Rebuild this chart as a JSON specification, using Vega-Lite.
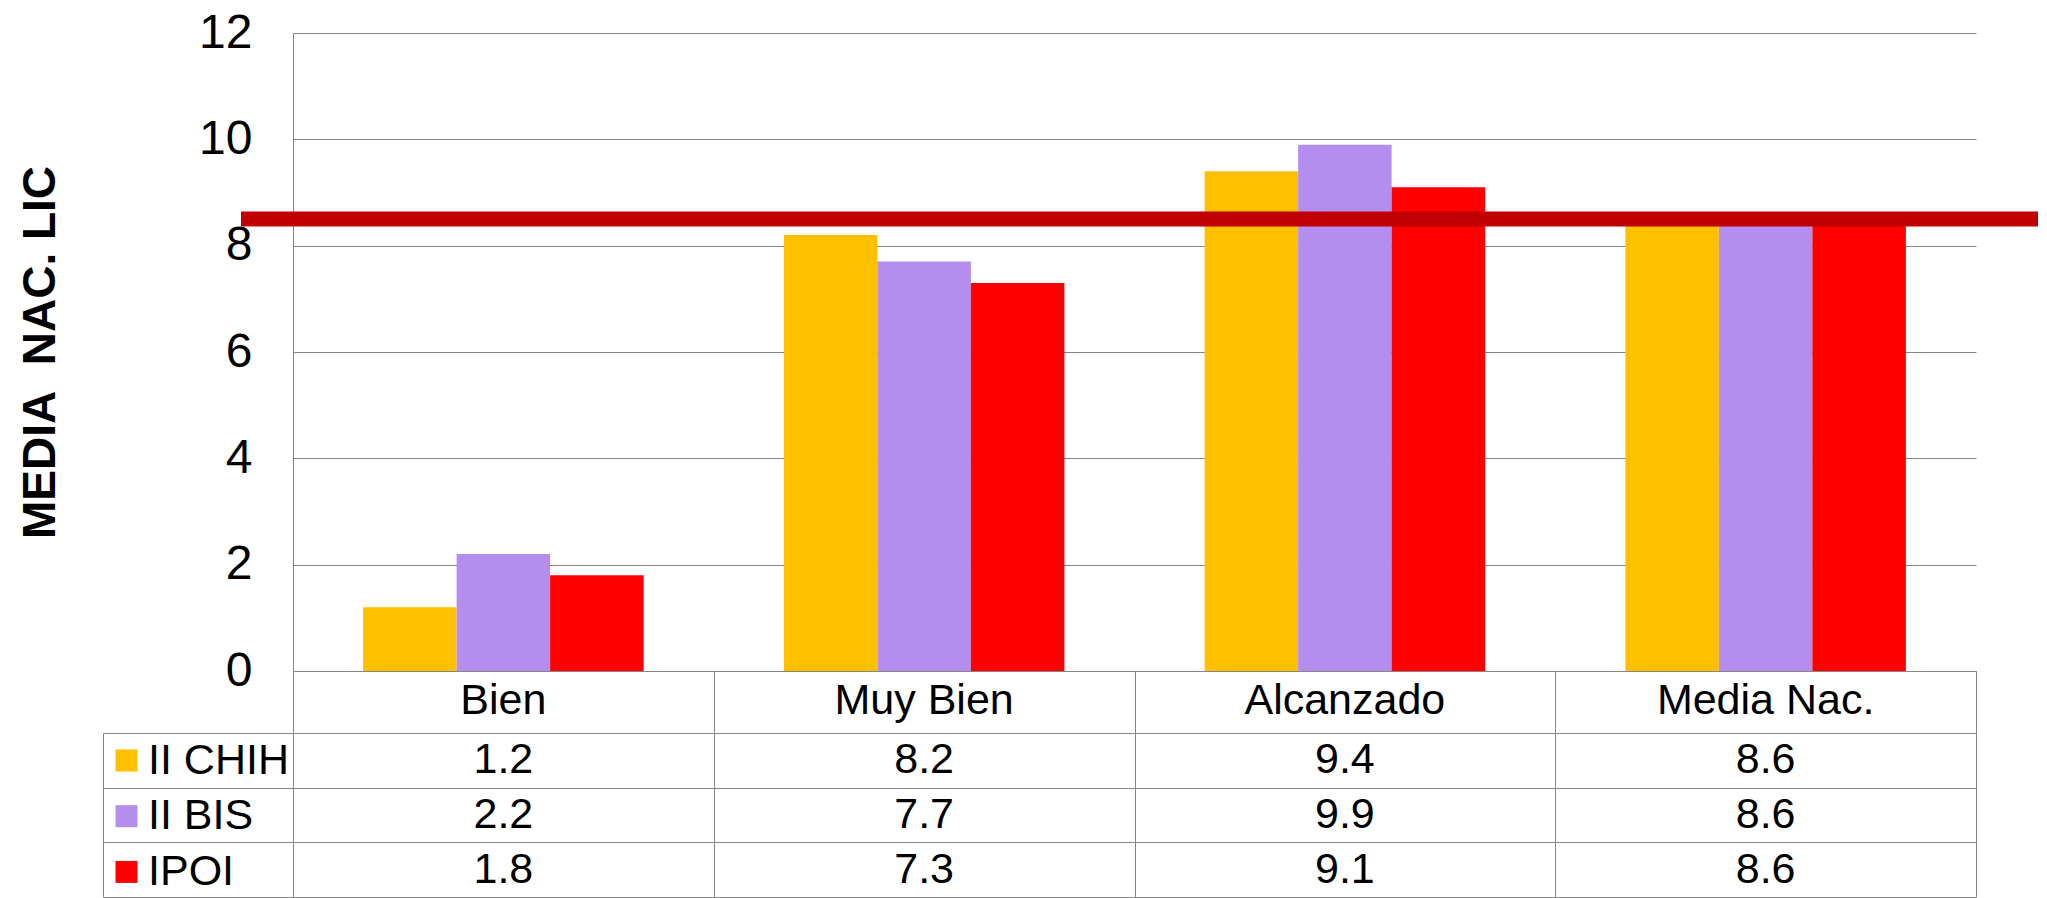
{
  "$schema": "https://vega.github.io/schema/vega-lite/v6.json",
  "padding": {"left": 17, "top": 9, "right": 0, "bottom": 0},
  "background": "white",
  "config": {
    "font": "Liberation Sans",
    "view": {"stroke": null},
    "axis": {"labelFont": "Liberation Sans", "titleFont": "Liberation Sans"},
    "legend": {"labelFont": "Liberation Sans"}
  },
  "datasets": {
    "scores": [
      {"nivel": "Bien", "grupo": "II CHIH", "valor": 1.2},
      {"nivel": "Bien", "grupo": "II BIS", "valor": 2.2},
      {"nivel": "Bien", "grupo": "IPOI", "valor": 1.8},
      {"nivel": "Muy Bien", "grupo": "II CHIH", "valor": 8.2},
      {"nivel": "Muy Bien", "grupo": "II BIS", "valor": 7.7},
      {"nivel": "Muy Bien", "grupo": "IPOI", "valor": 7.3},
      {"nivel": "Alcanzado", "grupo": "II CHIH", "valor": 9.4},
      {"nivel": "Alcanzado", "grupo": "II BIS", "valor": 9.9},
      {"nivel": "Alcanzado", "grupo": "IPOI", "valor": 9.1},
      {"nivel": "Media Nac.", "grupo": "II CHIH", "valor": 8.6},
      {"nivel": "Media Nac.", "grupo": "II BIS", "valor": 8.6},
      {"nivel": "Media Nac.", "grupo": "IPOI", "valor": 8.6}
    ],
    "media": [
      {"nivel": "Bien", "media": 8.5},
      {"nivel": "Muy Bien", "media": 8.5},
      {"nivel": "Alcanzado", "media": 8.5},
      {"nivel": "Media Nac.", "media": 8.5}
    ]
  },
  "bounds": "flush",
  "spacing": 62,
  "resolve": {"legend": {"color": "independent"}},
  "vconcat": [
    {
      "width": 1683,
      "height": 638,
      "layer": [
        {
          "data": {"name": "scores"},
          "mark": {"type": "bar"},
          "encoding": {
            "x": {
              "field": "nivel", "type": "nominal",
              "sort": ["Bien", "Muy Bien", "Alcanzado", "Media Nac."],
              "scale": {"paddingInner": 0, "paddingOuter": 0},
              "axis": {
                "orient": "bottom", "title": null, "labelAngle": 0,
                "labelFontSize": 43, "labelColor": "black", "labelBaseline": "middle",
                "labelPadding": 29, "labelLimit": 600, "ticks": false, "tickSize": 0,
                "domain": true, "domainColor": "#868686", "grid": false
              }
            },
            "xOffset": {
              "field": "grupo", "type": "nominal",
              "sort": ["II CHIH", "II BIS", "IPOI"],
              "scale": {"paddingInner": 0, "paddingOuter": 0.75}
            },
            "y": {
              "field": "valor", "type": "quantitative",
              "scale": {"domain": [0, 12], "nice": false},
              "axis": {
                "values": [0, 2, 4, 6, 8, 10, 12],
                "grid": true, "gridColor": "#868686",
                "domain": true, "domainColor": "#868686",
                "ticks": false, "tickSize": 0,
                "labelPadding": 41, "labelFontSize": 48, "labelColor": "black",
                "title": "MEDIA\u00a0 NAC. LIC", "titleFontSize": 46,
                "titleFontWeight": "bold", "titleColor": "black", "titlePadding": 134
              }
            },
            "color": {
              "field": "grupo", "type": "nominal",
              "scale": {"domain": ["II CHIH", "II BIS", "IPOI"], "range": ["#FFC000", "#B48EEE", "#FF0000"]},
              "legend": null
            }
          }
        },
        {
          "data": {"name": "media"},
          "mark": {"type": "line", "color": "#C00000", "strokeWidth": 15, "clip": false},
          "encoding": {
            "x": {
              "field": "nivel", "type": "ordinal",
              "sort": ["Bien", "Muy Bien", "Alcanzado", "Media Nac."],
              "scale": {"type": "point", "range": [-52, 1745], "padding": 0},
              "axis": null
            },
            "y": {"field": "media", "type": "quantitative"}
          }
        }
      ],
      "resolve": {"scale": {"x": "independent"}, "axis": {"x": "independent"}}
    },
    {
      "width": 1683,
      "height": 164,
      "data": {"name": "scores"},
      "layer": [
        {
          "mark": {"type": "text", "fontSize": 43, "color": "black", "baseline": "middle", "align": "center"},
          "encoding": {
            "x": {
              "field": "nivel", "type": "nominal",
              "sort": ["Bien", "Muy Bien", "Alcanzado", "Media Nac."],
              "scale": {"paddingInner": 0, "paddingOuter": 0},
              "axis": {
                "orient": "top", "title": null, "labels": false,
                "grid": true, "gridColor": "#868686", "tickBand": "extent",
                "ticks": true, "tickSize": 62, "tickColor": "#868686", "domain": false
              }
            },
            "y": {
              "field": "grupo", "type": "nominal",
              "sort": ["II CHIH", "II BIS", "IPOI"],
              "scale": {"paddingInner": 0, "paddingOuter": 0},
              "axis": {
                "title": null, "labels": false, "ticks": false,
                "grid": true, "gridColor": "#868686", "tickBand": "extent",
                "domain": true, "domainColor": "#868686"
              }
            },
            "text": {"field": "valor", "type": "quantitative", "format": ".1f"}
          }
        },
        {
          "mark": {"type": "square", "opacity": 0},
          "encoding": {
            "y": {
              "field": "grupo", "type": "nominal",
              "sort": ["II CHIH", "II BIS", "IPOI"],
              "axis": {
                "orient": "left", "offset": 190, "title": null, "labels": false,
                "grid": false, "tickBand": "extent", "ticks": true,
                "tickSize": {"expr": "-190"}, "tickColor": "#868686",
                "domain": true, "domainColor": "#868686"
              }
            },
            "color": {
              "field": "grupo", "type": "nominal",
              "scale": {"domain": ["II CHIH", "II BIS", "IPOI"], "range": ["#FFC000", "#B48EEE", "#FF0000"]},
              "legend": {
                "orient": "left", "offset": -193, "padding": 6, "title": null,
                "labelFontSize": 43, "labelColor": "black",
                "symbolType": "square", "symbolSize": 484, "symbolStrokeWidth": 0,
                "symbolOpacity": 1, "labelOffset": 0, "rowPadding": 11.7, "labelLimit": 400
              }
            }
          }
        }
      ],
      "resolve": {"axis": {"y": "independent"}}
    }
  ]
}
